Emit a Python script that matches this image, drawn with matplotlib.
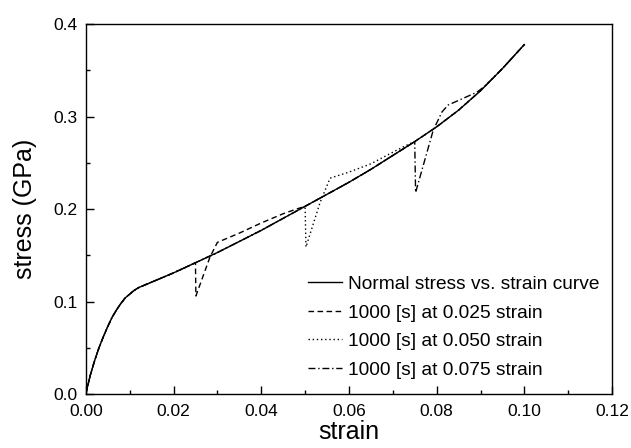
import matplotlib
matplotlib.use('Agg')
import matplotlib.pyplot as plt
from matplotlib.ticker import MultipleLocator

plt.rcParams['font.family'] = ['Liberation Sans', 'DejaVu Sans']

# Normal stress-strain curve
strain = [0.0, 0.001, 0.002, 0.003, 0.004, 0.005, 0.006, 0.007, 0.008, 0.009,
          0.010, 0.011, 0.012, 0.015, 0.020,
          0.025, 0.030, 0.035, 0.040, 0.045, 0.050, 0.055, 0.060, 0.065, 0.070,
          0.075, 0.080, 0.085, 0.090, 0.095, 0.100]
stress = [0.0, 0.020, 0.036, 0.050, 0.062, 0.073, 0.083, 0.091, 0.098, 0.104,
          0.108, 0.112, 0.115, 0.121, 0.131,
          0.142, 0.153, 0.165, 0.177, 0.190, 0.203, 0.216, 0.229, 0.243, 0.258,
          0.273, 0.289, 0.307, 0.328, 0.352, 0.378]

# Relaxation hold of 1000 s at 0.025 strain
strain_25 = [0.025, 0.0251, 0.0283, 0.030, 0.035, 0.040, 0.045, 0.048]
stress_25 = [0.142, 0.106, 0.148, 0.164, 0.174, 0.185, 0.195, 0.200]

# Relaxation hold of 1000 s at 0.050 strain
strain_50 = [0.050, 0.0502, 0.0534, 0.0557, 0.060, 0.065, 0.071, 0.074]
stress_50 = [0.203, 0.159, 0.207, 0.2335, 0.240, 0.249, 0.264, 0.271]

# Relaxation hold of 1000 s at 0.075 strain
strain_75 = [0.075, 0.0752, 0.0792, 0.0812, 0.0826, 0.0892, 0.091]
stress_75 = [0.273, 0.218, 0.285, 0.305, 0.3125, 0.3265, 0.333]


def with_hold(start, hold_x, hold_y):
    # normal curve up to the hold, the hold itself, then back on the normal curve
    end = hold_x[-1]
    xs = [x for x in strain if x < start] + hold_x + [x for x in strain if x > end]
    ys = [y for x, y in zip(strain, stress) if x < start] + hold_y + \
         [y for x, y in zip(strain, stress) if x > end]
    return xs, ys


fig = plt.figure(figsize=(6.31, 4.48), dpi=100)
ax = fig.add_axes([0.136, 0.1205, 0.834, 0.8255])

ax.plot(strain, stress, 'k-', lw=1.0, label='Normal stress vs. strain curve')
x, y = with_hold(0.025, strain_25, stress_25)
ax.plot(x, y, 'k--', lw=1.0, dashes=(4, 2.5), label='1000 [s] at 0.025 strain')
x, y = with_hold(0.050, strain_50, stress_50)
ax.plot(x, y, 'k:', lw=1.0, dashes=(1, 2), label='1000 [s] at 0.050 strain')
x, y = with_hold(0.075, strain_75, stress_75)
ax.plot(x, y, 'k-.', lw=1.0, dashes=(5, 2, 1, 2), label='1000 [s] at 0.075 strain')

ax.set_xlim(0, 0.12)
ax.set_ylim(0, 0.4)
ax.xaxis.set_major_locator(MultipleLocator(0.02))
ax.xaxis.set_minor_locator(MultipleLocator(0.01))
ax.yaxis.set_major_locator(MultipleLocator(0.1))
ax.yaxis.set_minor_locator(MultipleLocator(0.05))
ax.xaxis.set_major_formatter(plt.FormatStrFormatter('%.2f'))
ax.yaxis.set_major_formatter(plt.FormatStrFormatter('%.1f'))
ax.tick_params(which='both', direction='in', labelsize=12.5, top=False, right=False)
ax.tick_params(axis='x', pad=7)
ax.tick_params(axis='y', pad=6)
ax.tick_params(which='major', length=6, width=1)
ax.tick_params(which='minor', length=3, width=1)
for s in ax.spines.values():
    s.set_linewidth(1.0)

ax.set_xlabel('strain', fontsize=18, labelpad=1)
ax.set_ylabel('stress (GPa)', fontsize=18, labelpad=12)

ax.legend(loc='lower right', frameon=False, fontsize=13.8, handlelength=1.75,
          handletextpad=0.3, labelspacing=0.58, bbox_to_anchor=(1.008, -0.005))

fig.savefig('out.png', dpi=100)
